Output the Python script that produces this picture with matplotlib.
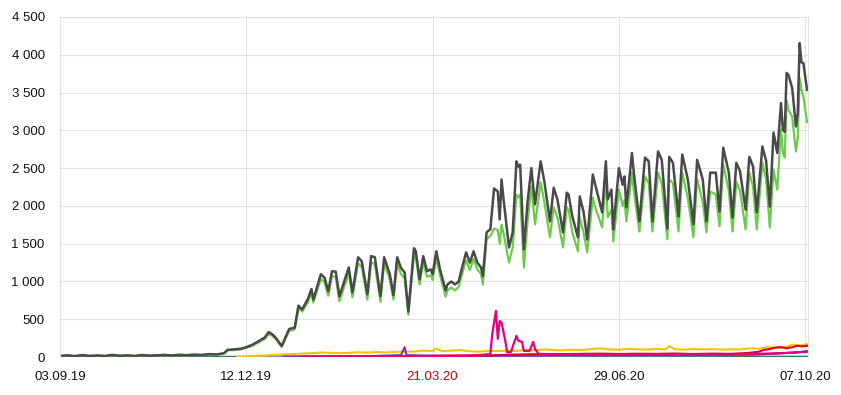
import matplotlib
matplotlib.use("Agg")
import matplotlib.pyplot as plt
import matplotlib.dates as mdates
import matplotlib.ticker as mticker
import pandas as pd

plt.rcParams['font.family'] = ['Liberation Sans', 'DejaVu Sans']

START = pd.Timestamp("2019-09-03")

# day offsets from 03.09.19 (peaks / troughs)
main_days = [0, 4, 8, 12, 16, 20, 24, 28, 32, 36, 40, 44, 48, 52, 56, 60, 64, 68, 72, 76,
             80, 84, 88, 90, 93, 97, 100, 103, 106, 110, 112, 114, 116, 119, 123, 126, 128,
             130, 133, 135, 136, 140, 142, 144, 146, 148, 150, 155, 157, 160, 162, 165, 167,
             169, 172, 174, 177, 179, 181, 183, 185, 187, 190, 191, 193, 195, 197, 199, 200,
             202, 204, 207, 208, 210, 212, 214, 216, 218, 220, 222, 224, 226, 227, 229, 231,
             233, 235, 236, 237, 238, 241, 243, 245, 246, 247, 249, 251, 253, 255, 258, 260,
             263, 265, 267, 270, 272, 273, 275, 278, 279, 281, 283, 286, 287, 291, 293, 294,
             296, 297, 300, 302, 303, 304, 307, 308, 311, 314, 316, 318, 321, 323, 326, 327,
             329, 332, 334, 337, 340, 342, 345, 347, 349, 352, 354, 356, 359, 361, 363, 365,
             368, 370, 372, 374, 377, 379, 381, 383, 385, 387, 388, 389, 390, 391, 393, 395,
             396, 397, 398, 399, 401]
total = [15, 22, 12, 25, 15, 20, 14, 28, 16, 22, 14, 26, 18, 22, 28, 20, 30, 24, 32, 28,
         38, 34, 50, 95, 100, 110, 130, 160, 200, 260, 330, 300, 250, 145, 370, 390, 680,
         630, 765, 900, 760, 1095, 1050, 870, 1135, 1130, 805, 1185, 855, 1320, 1265, 830, 1335,
         1320, 805, 1320, 1100, 820, 1320, 1180, 1120, 600, 1440, 1400, 1030, 1335, 1135, 1160, 1095,
         1400, 1160, 880, 960, 1000, 960, 1000, 1200, 1385, 1250, 1400, 1250, 1185, 1070, 1650, 1690,
         2230, 2190, 1820, 2350, 2110, 1450, 1650, 2590, 2520, 2545, 1425, 2060, 2500, 2020, 2590, 2320,
         1795, 2240, 2085, 1650, 2175, 2150, 1860, 1585, 2125, 1925, 1555, 2415, 2310, 1915, 2590, 2085,
         2215, 1690, 2500, 2280, 2390, 1980, 2700, 2440, 1795, 2640, 2590, 1795, 2720, 2610, 1700, 2650,
         2570, 1860, 2680, 2350, 1755, 2610, 2350, 1795, 2440, 2440, 1925, 2770, 2440, 1845, 2570, 2460,
         1950, 2650, 2520, 1915, 2785, 2600, 1990, 2970, 2700, 3360, 3010, 2980, 3760, 3735, 3560, 3050,
         3230, 4155, 3900, 3890, 3535]
green = [12, 18, 10, 20, 12, 17, 12, 24, 14, 18, 12, 22, 15, 18, 24, 17, 26, 20, 28, 24,
         33, 30, 45, 88, 92, 100, 120, 145, 185, 240, 305, 280, 230, 135, 345, 365, 640,
         600, 720, 850, 720, 1030, 990, 810, 1070, 1060, 740, 1110, 790, 1240, 1190, 760, 1250,
         1230, 730, 1240, 1030, 760, 1230, 1100, 1040, 560, 1350, 1320, 960, 1250, 1060, 1080, 1020,
         1310, 1080, 800, 880, 920, 880, 930, 1110, 1280, 1150, 1300, 1160, 1100, 960, 1560, 1600,
         1700, 1680, 1500, 1750, 1650, 1250, 1450, 2150, 2110, 2150, 1185, 1800, 2260, 1755, 2310, 2050,
         1585, 1980, 1850, 1450, 1980, 1950, 1650, 1400, 1845, 1650, 1385, 2110, 2000, 1715, 2375, 1850,
         1950, 1530, 2215, 2000, 2080, 1795, 2440, 2200, 1660, 2390, 2300, 1660, 2440, 2300, 1560, 2350,
         2300, 1660, 2440, 2100, 1585, 2350, 2050, 1650, 2190, 2150, 1730, 2545, 2200, 1660, 2320, 2200,
         1690, 2440, 2250, 1690, 2570, 2350, 1715, 2480, 2215, 3010, 2700, 2640, 3400, 3270, 3180, 2720,
         2900, 3690, 3535, 3450, 3110]

yellow_days = [95, 100, 105, 110, 115, 120, 125, 130, 135, 140, 145, 150, 155, 160, 165, 170,
               175, 180, 185, 190, 195, 200, 202, 205, 210, 215, 220, 225, 230, 235, 240, 245,
               250, 255, 260, 265, 270, 275, 280, 285, 290, 295, 300, 305, 310, 315, 320, 325,
               327, 330, 335, 340, 345, 350, 355, 360, 365, 370, 375, 380, 385, 390, 393, 397, 401]
yellow = [3, 8, 15, 20, 28, 35, 40, 45, 50, 60, 55, 50, 55, 62, 58, 65, 60, 68, 72, 70,
          85, 80, 112, 78, 85, 92, 75, 70, 82, 78, 86, 80, 95, 88, 100, 92, 88, 96, 90, 105,
          115, 100, 95, 108, 102, 98, 106, 100, 145, 102, 98, 106, 100, 104, 98, 102, 100, 115,
          110, 130, 120, 135, 165, 150, 170]

red_days = [180, 190, 200, 210, 220, 230, 240, 250, 260, 270, 280, 290, 300, 310, 320, 330,
            340, 350, 360, 365, 370, 375, 378, 381, 384, 387, 390, 393, 396, 398, 401]
red = [8, 12, 15, 18, 22, 20, 30, 35, 40, 38, 42, 45, 40, 44, 42, 46, 40, 45, 42, 48,
       55, 70, 95, 105, 125, 130, 115, 130, 150, 140, 148]

pink_days = [130, 160, 190, 220, 231, 232, 234, 235, 236, 237, 239, 240, 242, 245, 246, 248,
             249, 252, 254, 255, 257, 270, 300, 330, 360, 380, 395, 401]
pink = [5, 8, 10, 12, 40, 300, 610, 240, 475, 460, 215, 65, 65, 280, 215, 200,
        80, 80, 200, 105, 40, 30, 28, 32, 35, 45, 60, 70]

purple_days = [120, 150, 170, 183, 185, 186, 200, 230, 260, 300, 340, 370, 385, 395, 401]
purple = [5, 10, 15, 25, 130, 25, 18, 15, 20, 22, 25, 30, 45, 60, 75]

blue_days = [100, 150, 200, 250, 300, 340, 370, 385, 395, 401]
blue = [8, 12, 15, 15, 18, 20, 25, 45, 60, 80]

teal_days = [0, 100, 200, 300, 401]
teal = [3, 4, 4, 5, 6]

tick_dates = ["2019-09-03", "2019-12-12", "2020-03-21", "2020-06-29", "2020-10-07"]


def as_dates(days):
    return START + pd.to_timedelta(days, unit="D")


fig = plt.figure(figsize=(8.41, 3.95), dpi=100)
ax = fig.add_axes([0.0713, 0.0962, 0.8897, 0.8608])

series = [
    (teal_days, teal, "#2e7d5b", 1.3),
    (blue_days, blue, "#6f8fe0", 1.3),
    (yellow_days, yellow, "#f5c400", 1.5),
    (purple_days, purple, "#8e2bc9", 1.5),
    (red_days, red, "#e3001b", 1.5),
    (pink_days, pink, "#e6007a", 1.6),
]
for d, v, c, lw in series:
    ax.plot(as_dates(d), v, color=c, lw=lw, solid_joinstyle="round")

ax.plot(as_dates(main_days), green, color="#6ccb4c", lw=1.6, solid_joinstyle="round")
ax.plot(as_dates(main_days), total, color="#4a4a4a", lw=1.8, solid_joinstyle="round")

ax.set_ylim(0, 4500)
ax.set_xlim(START, START + pd.Timedelta(days=401.6))
ax.yaxis.set_major_locator(mticker.MultipleLocator(500))
ax.yaxis.set_major_formatter(mticker.FuncFormatter(lambda v, p: f"{int(v):,}".replace(",", " ")))

ticks = pd.to_datetime(tick_dates)
ax.set_xticks(ticks)
ax.xaxis.set_major_formatter(mdates.DateFormatter("%d.%m.%y"))

ax.grid(True, color="#e2e2e2", lw=0.8)
ax.set_axisbelow(True)
for s in ["top", "bottom"]:
    ax.spines[s].set_visible(False)
for s in ["left", "right"]:
    ax.spines[s].set_color("#e2e2e2")
    ax.spines[s].set_linewidth(0.8)
ax.tick_params(axis="both", length=0, labelsize=9.5, colors="#111111")
ax.tick_params(axis="y", pad=11)
ax.tick_params(axis="x", pad=10)
fig.canvas.draw()
for lab in ax.get_xticklabels():
    if lab.get_text() == "21.03.20":
        lab.set_color("#c8000f")

fig.savefig("out.png", dpi=100)
